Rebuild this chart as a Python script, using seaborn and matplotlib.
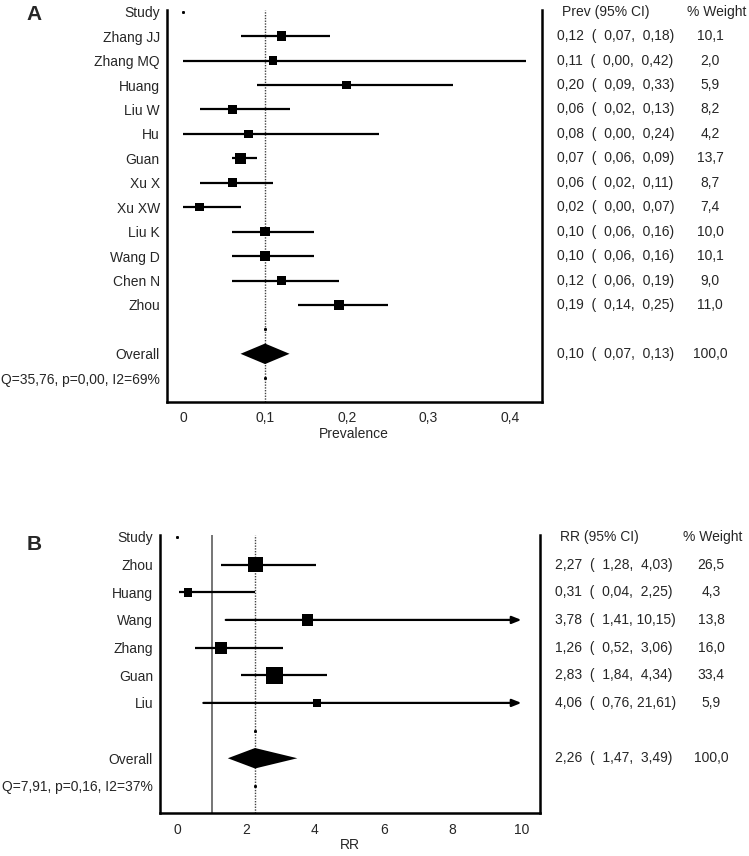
import numpy as np
import pandas as pd
import matplotlib
matplotlib.use("Agg")
import matplotlib.pyplot as plt
from matplotlib.transforms import blended_transform_factory
import seaborn as sns

# ---------------- data ----------------
studies_A = ["Zhang JJ", "Zhang MQ", "Huang", "Liu W", "Hu", "Guan",
             "Xu X", "Xu XW", "Liu K", "Wang D", "Chen N", "Zhou"]
prev_A = [0.12, 0.11, 0.20, 0.06, 0.08, 0.07, 0.06, 0.02, 0.10, 0.10, 0.12, 0.19]
lo_A = [0.07, 0.00, 0.09, 0.02, 0.00, 0.06, 0.02, 0.00, 0.06, 0.06, 0.06, 0.14]
hi_A = [0.18, 0.42, 0.33, 0.13, 0.24, 0.09, 0.11, 0.07, 0.16, 0.16, 0.19, 0.25]
weight_A = [10.1, 2.0, 5.9, 8.2, 4.2, 13.7, 8.7, 7.4, 10.0, 10.1, 9.0, 11.0]
overall_A = [0.10, 0.07, 0.13]
stats_A = "Q=35,76, p=0,00, I2=69%"
ticks_A = [0, 0.1, 0.2, 0.3, 0.4]
ticklabels_A = ["0", "0,1", "0,2", "0,3", "0,4"]

studies_B = ["Zhou", "Huang", "Wang", "Zhang", "Guan", "Liu"]
rr_B = [2.27, 0.31, 3.78, 1.26, 2.83, 4.06]
lo_B = [1.28, 0.04, 1.41, 0.52, 1.84, 0.76]
hi_B = [4.03, 2.25, 10.15, 3.06, 4.34, 21.61]
weight_B = [26.5, 4.3, 13.8, 16.0, 33.4, 5.9]
overall_B = [2.26, 1.47, 3.49]
stats_B = "Q=7,91, p=0,16, I2=37%"
ticks_B = [0, 2, 4, 6, 8, 10]
ticklabels_B = ["0", "2", "4", "6", "8", "10"]

# ---------------- style ----------------
sns.set_style("white")
plt.rcParams["font.family"] = ["Liberation Sans", "DejaVu Sans"]
FS = 10
W, H = 749, 856

fig = plt.figure(figsize=(W / 100, H / 100), dpi=100)


def fmt(v, width=None):
    s = f"{v:.2f}" if width is None else f"{v:{width}.2f}"
    return s.replace(".", ",")


def panel(ax, names, est, lo, hi, wts, overall, stats, ticks, ticklabels,
          xlim, ylim, xlabel, header, letter, letter_y, null_line,
          xcol_val, xcol_head, xcol_wh, xcol_wc, diamond_h, xcap=None):
    n = len(names)
    rows = np.arange(1, n + 1)
    r_overall = n + 2
    r_stats = n + 3

    df = pd.DataFrame({"name": names, "est": est, "lo": lo, "hi": hi,
                       "w": wts, "row": rows})

    # confidence interval lines
    for _, r in df.iterrows():
        hi_v = r["hi"]
        if xcap is not None and hi_v > xcap:
            ax.annotate("", xy=(xcap, r["row"]), xytext=(r["lo"], r["row"]),
                        arrowprops=dict(arrowstyle="-|>,head_length=0.55,head_width=0.22",
                                        lw=1.6, color="black",
                                        shrinkA=0, shrinkB=0), zorder=3)
        else:
            ax.plot([r["lo"], hi_v], [r["row"], r["row"]], color="black",
                    lw=1.6, solid_capstyle="butt", zorder=3)

    # square markers scaled by weight
    side_px = np.maximum(3.0 * np.sqrt(df["w"].values), 8.5)
    side_pt = side_px * 0.72
    sns.scatterplot(data=df, x="est", y="row", marker="s", color="black",
                    s=side_pt ** 2, linewidth=0, legend=False, ax=ax, zorder=4)

    # reference lines
    if null_line is not None:
        ax.axvline(null_line, color="#505050", lw=1.1, zorder=2)
    ax.axvline(overall[0], color="#444444", lw=1.0, ls=(0, (1, 1)), zorder=2)

    # tiny dots (artifacts in original)
    ax.plot([0], [0], marker="s", ms=1.1, color="black", ls="none")
    ax.plot([overall[0], overall[0]], [n + 1, r_stats], marker="s", ms=1.1,
            color="black", ls="none")

    # diamond
    ax.fill([overall[1], overall[0], overall[2], overall[0]],
            [r_overall, r_overall - diamond_h, r_overall, r_overall + diamond_h],
            color="black", lw=0, zorder=4)

    ax.set_xlim(*xlim)
    ax.set_ylim(*ylim)
    ax.set_yticks([0] + list(rows) + [r_overall, r_stats],
                  ["Study"] + names + ["Overall", stats])
    ax.set_xticks(ticks, ticklabels)
    ax.tick_params(axis="y", length=0, pad=5, labelsize=FS)
    ax.tick_params(axis="x", length=0, pad=7, labelsize=FS)
    ax.set_xlabel(xlabel, fontsize=FS, labelpad=1)
    ax.set_ylabel("")
    ax.grid(False)
    for s in ["left", "right", "bottom"]:
        ax.spines[s].set_visible(True)
        ax.spines[s].set_linewidth(1.8)
        ax.spines[s].set_color("black")
    ax.spines["top"].set_visible(False)

    tr = blended_transform_factory(fig.transFigure, ax.transData)
    ax.text(xcol_head / W, 0, header, transform=tr, ha="left", va="center",
            fontsize=FS, clip_on=False)
    ax.text(xcol_wh / W, 0, "% Weight", transform=tr, ha="left", va="center",
            fontsize=FS, clip_on=False)
    for _, r in df.iterrows():
        txt = f"{fmt(r['est'])}  ( {fmt(r['lo'], 5)}, {fmt(r['hi'], 5)})"
        ax.text(xcol_val / W, r["row"], txt, transform=tr, ha="left",
                va="center", fontsize=FS, clip_on=False)
        ax.text(xcol_wc / W, r["row"], f"{r['w']:.1f}".replace(".", ","),
                transform=tr, ha="center", va="center", fontsize=FS, clip_on=False)
    txt = f"{fmt(overall[0])}  ( {fmt(overall[1], 5)}, {fmt(overall[2], 5)})"
    ax.text(xcol_val / W, r_overall, txt, transform=tr, ha="left",
            va="center", fontsize=FS, clip_on=False)
    ax.text(xcol_wc / W, r_overall, "100,0", transform=tr, ha="center",
            va="center", fontsize=FS, clip_on=False)

    fig.text(34.5 / W, 1 - letter_y / H, letter, fontsize=15, fontweight="bold",
             ha="center", va="center")


axA = fig.add_axes([166.7 / W, 1 - 401.7 / H, 375 / W, (401.7 - 10) / H])
panel(axA, studies_A, prev_A, lo_A, hi_A, weight_A, overall_A, stats_A,
      ticks_A, ticklabels_A, (-0.0204, 0.4387), (15.96, -0.07), "Prevalence",
      "Prev (95% CI)", "A", 14, None,
      556.7, 561.7, 686.7, 710, 0.42)

axB = fig.add_axes([160 / W, 1 - 813.3 / H, 380 / W, (813.3 - 535) / H])
panel(axB, studies_B, rr_B, lo_B, hi_B, weight_B, overall_B, stats_B,
      ticks_B, ticklabels_B, (-0.50, 10.54), (9.99, -0.07), "RR",
      "RR (95% CI)", "B", 545, 1.0,
      555, 560, 683, 711, 0.37, xcap=10)

fig.savefig("out.png", dpi=100)
